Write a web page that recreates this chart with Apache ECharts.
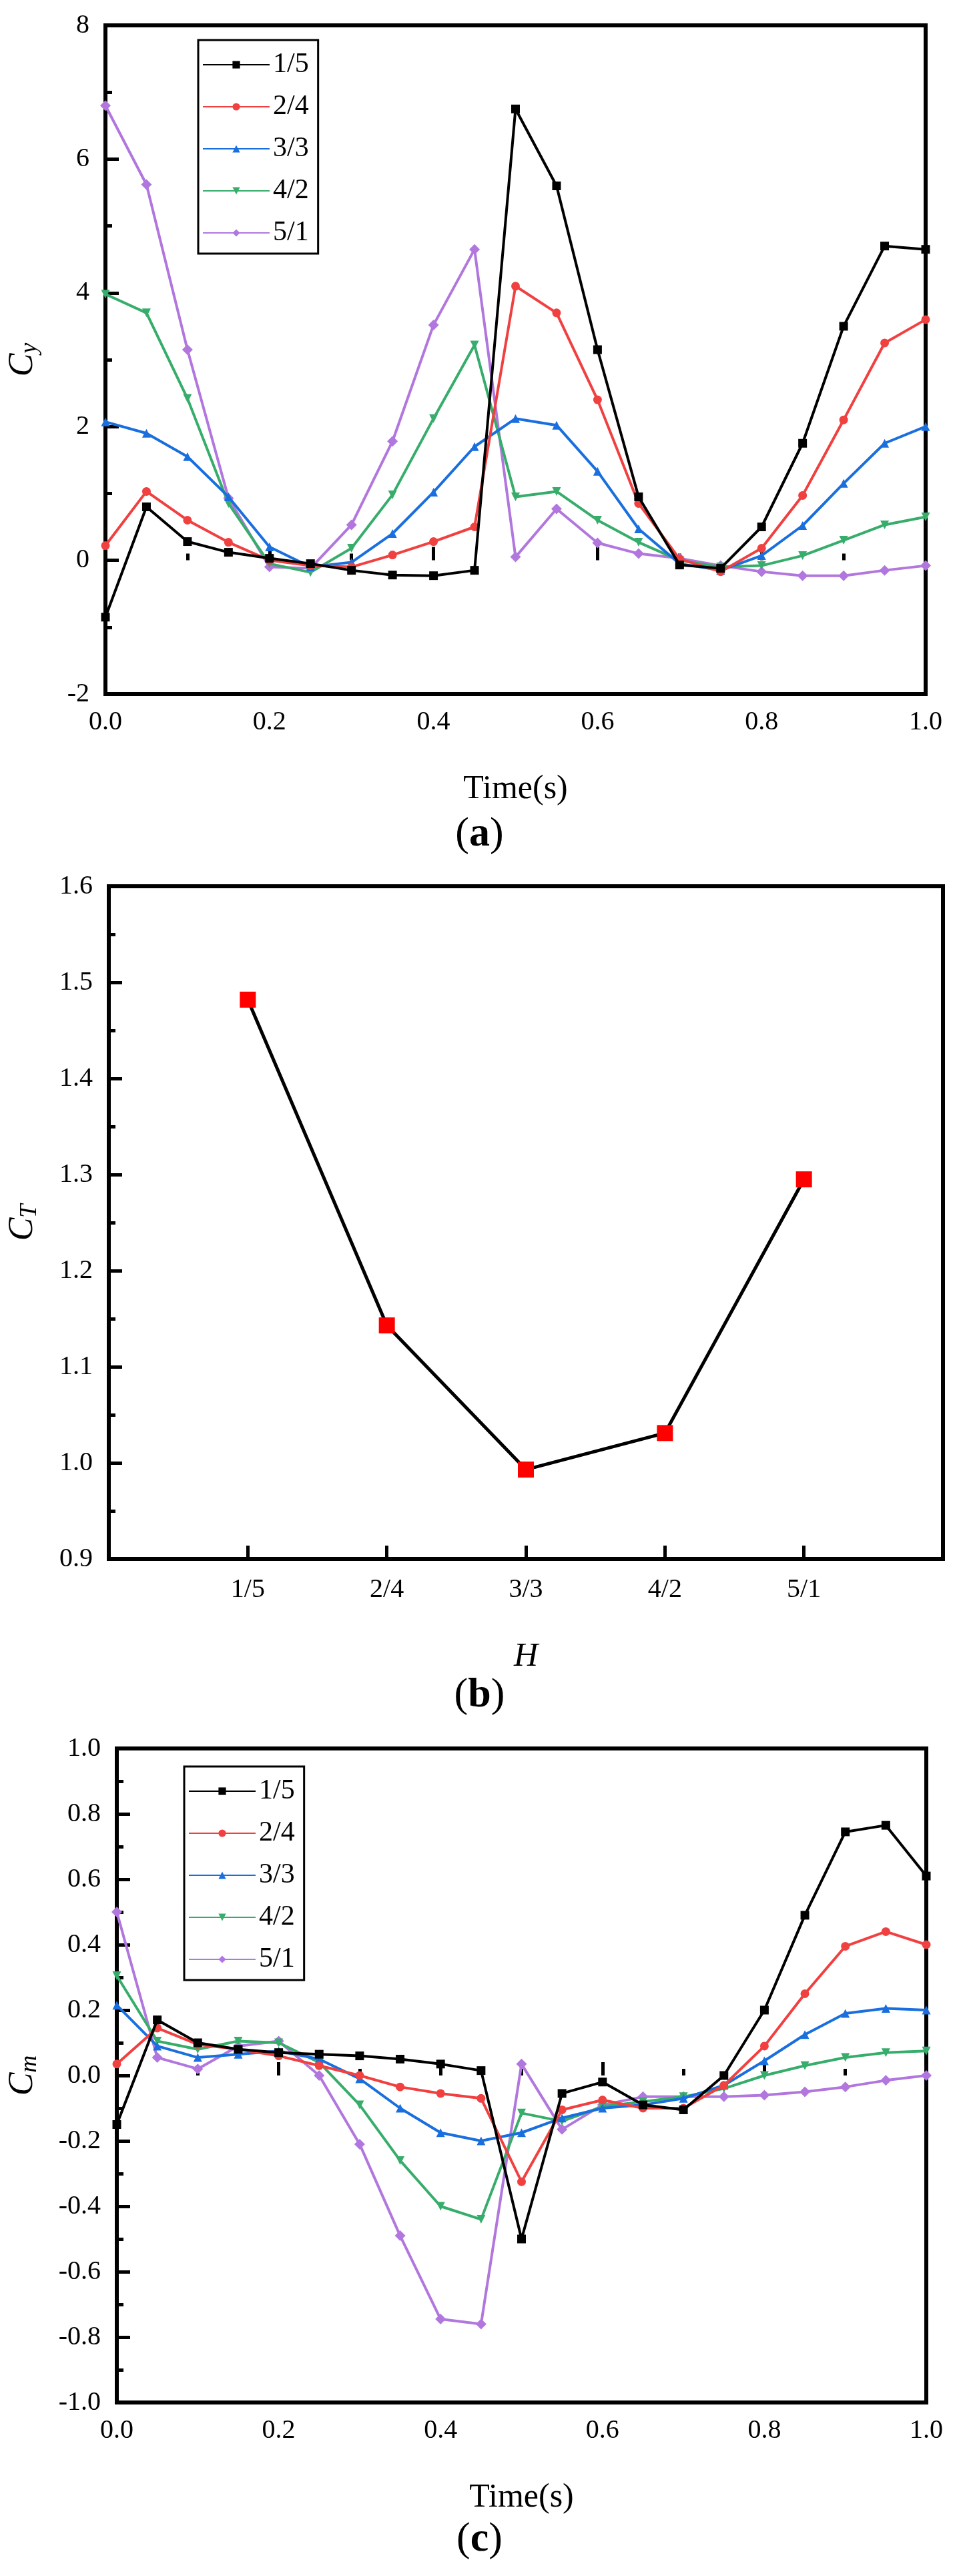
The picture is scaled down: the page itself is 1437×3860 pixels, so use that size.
<!DOCTYPE html>
<html>
<head>
<meta charset="utf-8">
<script src="https://cdn.jsdelivr.net/npm/echarts@6/dist/echarts.min.js"></script>
<style>body{margin:0;background:#fff}#main{width:1437px;height:3860px}</style>
</head>
<body>
<div id="main"></div>
<script>
// time axis shared by (a) and (c)
var times = [0,0.05,0.1,0.15,0.2,0.25,0.3,0.35,0.4,0.45,0.5,0.55,0.6,0.65,0.7,0.75,0.8,0.85,0.9,0.95,1.0];
var caseNames = ['1/5','2/4','3/3','4/2','5/1'];

// (a) Cy
var cy15 = [-0.85,0.8,0.28,0.12,0.03,-0.05,-0.15,-0.22,-0.23,-0.15,6.75,5.6,3.15,0.95,-0.07,-0.12,0.5,1.75,3.5,4.7,4.65];
var cy24 = [0.22,1.03,0.6,0.27,0.0,-0.08,-0.1,0.08,0.28,0.5,4.1,3.7,2.4,0.85,0.02,-0.17,0.18,0.97,2.1,3.25,3.6];
var cy33 = [2.07,1.9,1.55,0.95,0.2,-0.1,-0.03,0.4,1.02,1.7,2.12,2.02,1.33,0.47,-0.05,-0.15,0.07,0.52,1.15,1.75,2.0];
var cy42 = [3.98,3.7,2.42,0.85,-0.05,-0.18,0.18,0.98,2.12,3.22,0.95,1.03,0.6,0.27,0.0,-0.1,-0.08,0.07,0.3,0.53,0.65];
var cy51 = [6.8,5.62,3.15,0.93,-0.1,-0.12,0.53,1.78,3.52,4.65,0.05,0.77,0.26,0.1,0.03,-0.08,-0.17,-0.23,-0.23,-0.15,-0.08];

// (b) CT
var ctPos = [1,2,3,4,5];
var ctVals = [1.482,1.143,0.993,1.031,1.295];

// (c) Cm
var cm15 = [-0.15,0.17,0.1,0.08,0.07,0.065,0.06,0.05,0.035,0.015,-0.5,-0.055,-0.02,-0.09,-0.105,0.0,0.2,0.49,0.745,0.765,0.61];
var cm24 = [0.035,0.145,0.095,0.08,0.06,0.03,0.0,-0.035,-0.055,-0.07,-0.325,-0.105,-0.075,-0.1,-0.1,-0.03,0.09,0.25,0.395,0.44,0.4];
var cm33 = [0.215,0.09,0.055,0.065,0.075,0.05,-0.01,-0.1,-0.175,-0.2,-0.175,-0.13,-0.1,-0.09,-0.07,-0.03,0.045,0.125,0.19,0.205,0.2];
var cm42 = [0.305,0.105,0.08,0.105,0.1,0.04,-0.09,-0.26,-0.4,-0.44,-0.115,-0.14,-0.095,-0.08,-0.065,-0.04,0.0,0.03,0.055,0.07,0.075];
var cm51 = [0.5,0.055,0.02,0.09,0.105,0.0,-0.21,-0.49,-0.745,-0.76,0.035,-0.165,-0.09,-0.065,-0.065,-0.065,-0.06,-0.05,-0.035,-0.015,0.0];

var colors = ['#000000','#F14040','#1A6FDF','#37AD6B','#B177DE'];
var symbols = ['rect','circle','triangle','triangle','diamond'];
var rotates = [0,0,0,180,0];
var FONT = '"Liberation Serif", "DejaVu Serif", serif';

function pairs(xs, ys) {
    return xs.map(function(x, i) { return [x, ys[i]]; });
}

function valAxis(idx, min, max, step, minor, fmt) {
    return {
        type: 'value', gridIndex: idx, min: min, max: max, interval: step,
        axisLine: {show: false},
        axisTick: {show: true, inside: true, length: 20, lineStyle: {color: '#000', width: 5}},
        minorTick: {show: minor > 0, splitNumber: minor, length: 10, lineStyle: {color: '#000', width: 5}},
        splitLine: {show: false},
        axisLabel: {fontFamily: FONT, fontSize: 40, color: '#000', formatter: fmt}
    };
}

var grids = [
    {left: 140, top: 38, width: 1247, height: 1002},
    {left: 160, top: 1328, width: 1253, height: 1008},
    {left: 168, top: 2620, width: 1220, height: 980}
];
grids.forEach(function(g) { g.show = true; g.borderColor = '#000'; g.borderWidth = 6; g.backgroundColor = 'transparent'; });

var fx1 = function(v) { return v.toFixed(1); };

var xA = valAxis(0, 0, 1, 0.2, 2, fx1);
xA.axisLabel.margin = 22;
xA.name = 'Time(s)'; xA.nameLocation = 'middle'; xA.nameGap = 118;
xA.nameTextStyle = {fontFamily: FONT, fontSize: 50, color: '#000'};
var yA = valAxis(0, -2, 8, 2, 2, function(v) { return String(v); });
yA.axisLabel.margin = 24;
yA.name = '{i|C}{s|y}'; yA.nameLocation = 'middle'; yA.nameGap = 95;
yA.nameTextStyle = {rich: {i: {fontFamily: FONT, fontSize: 52, fontStyle: 'italic', color: '#000'},
    s: {fontFamily: FONT, fontSize: 36, fontStyle: 'italic', color: '#000', verticalAlign: 'bottom', padding: [22, 0, 0, 0]}}};

var xB = valAxis(1, 0, 6, 1, 0, function(v) { return (v >= 1 && v <= 5) ? caseNames[v - 1] : ''; });
xB.axisLabel.margin = 26;
xB.axisTick.customValues = ctPos;
xB.axisLabel.customValues = ctPos;
xB.name = 'H'; xB.nameLocation = 'middle'; xB.nameGap = 122;
xB.nameTextStyle = {fontFamily: FONT, fontSize: 50, fontStyle: 'italic', color: '#000'};
var yB = valAxis(1, 0.9, 1.6, 0.1, 2, fx1);
yB.axisLabel.margin = 24;
yB.name = '{i|C}{s|T}'; yB.nameLocation = 'middle'; yB.nameGap = 100;
yB.nameTextStyle = yA.nameTextStyle;

var xC = valAxis(2, 0, 1, 0.2, 2, fx1);
xC.axisLabel.margin = 22;
xC.name = 'Time(s)'; xC.nameLocation = 'middle'; xC.nameGap = 118;
xC.nameTextStyle = xA.nameTextStyle;
var yC = valAxis(2, -1, 1, 0.2, 2, fx1);
yC.axisLabel.margin = 24;
yC.name = '{i|C}{s|m}'; yC.nameLocation = 'middle'; yC.nameGap = 112;
yC.nameTextStyle = yA.nameTextStyle;

var seriesA = [cy15, cy24, cy33, cy42, cy51];
var seriesC = [cm15, cm24, cm33, cm42, cm51];
var series = [];
function addLines(arrs, idx) {
    arrs.forEach(function(arr, i) {
        series.push({
            name: caseNames[i], type: 'line', xAxisIndex: idx, yAxisIndex: idx,
            data: pairs(times, arr), symbol: symbols[i], symbolRotate: rotates[i],
            symbolSize: i === 4 ? 16 : 13, showSymbol: true,
            lineStyle: {color: colors[i], width: 4}, itemStyle: {color: colors[i]},
            z: 10 - i
        });
    });
}
addLines(seriesA, 0);
series.push({
    type: 'line', xAxisIndex: 1, yAxisIndex: 1, data: pairs(ctPos, ctVals),
    symbol: 'rect', symbolSize: 24, lineStyle: {color: '#000', width: 5}, itemStyle: {color: '#FF0000'}
});
addLines(seriesC, 2);
// tag legend groups
for (var k = 0; k < 5; k++) series[k].name = caseNames[k];
for (var k = 6; k < 11; k++) series[k].name = caseNames[k - 6] + ' ';

function legendFor(names, left, top) {
    return {
        data: names.map(function(n, i) { return {name: n, icon: 'path://M0,0', itemStyle: {}}; }),
        left: left, top: top, orient: 'vertical', itemWidth: 100, itemHeight: 14, itemGap: 21,
        borderColor: '#000', borderWidth: 3, padding: [16, 14, 10, 6],
        textStyle: {fontFamily: FONT, fontSize: 42, color: '#000',
            formatter: null},
        formatter: function(n) { return n.trim(); },
        selectedMode: false
    };
}
var legA = legendFor(caseNames, 297, 60);
legA.data = caseNames.map(function(n) { return n; });
var legC = legendFor(caseNames, 276, 2647);
legC.data = caseNames.map(function(n) { return n + ' '; });

function caption(letter, y) {
    return {type: 'text', left: 'center', top: y - 38, style: {
        text: '{p|(}{b|' + letter + '}{p|)}',
        rich: {p: {fontFamily: FONT, fontSize: 62, fill: '#000'}, b: {fontFamily: FONT, fontSize: 62, fontWeight: 'bold', fill: '#000'}}
    }};
}

var myChart = echarts.init(document.getElementById('main'));
var option = {
    backgroundColor: '#fff',
    animation: false,
    grid: grids,
    xAxis: [xA, xB, xC],
    yAxis: [yA, yB, yC],
    legend: [legA, legC],
    series: series,
    graphic: [caption('a', 1258), caption('b', 2548), caption('c', 3813)]
};
myChart.setOption(option);
</script>
</body>
</html>
